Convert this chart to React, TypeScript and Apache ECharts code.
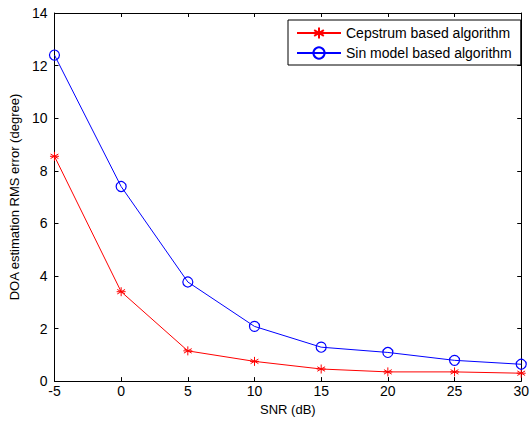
import React, { useEffect, useRef } from "react";
import * as echarts from "echarts";

const snr = [-5, 0, 5, 10, 15, 20, 25, 30];
const cepstrum = [8.55, 3.4, 1.15, 0.75, 0.46, 0.35, 0.35, 0.3];
const sinModel = [12.4, 7.4, 3.77, 2.08, 1.29, 1.09, 0.79, 0.64];
const seriesNames = ["Cepstrum based algorithm", "Sin model based algorithm"];
const xTitle = "SNR (dB)";
const yTitle = "DOA estimation RMS error (degree)";

const FONT = "Liberation Sans, Arial, sans-serif";
const asterisk =
  "path://M0 -5 L0 5 M-4.33 -2.5 L4.33 2.5 M-4.33 2.5 L4.33 -2.5 M-5 0 L5 0";

export default function App() {
  const ref = useRef<HTMLDivElement>(null);
  useEffect(() => {
    const chart = echarts.init(ref.current!, null, { renderer: "svg" });
    const baseX = {
      type: "value" as const,
      min: -5,
      max: 30,
      interval: 5,
      splitLine: { show: false },
      axisLine: { show: true, onZero: false, lineStyle: { color: "#000", width: 1 } },
      axisTick: { show: true, inside: true, length: 4, lineStyle: { color: "#000" } },
    };
    const baseY = {
      type: "value" as const,
      min: 0,
      max: 14,
      interval: 2,
      splitLine: { show: false },
      axisLine: { show: true, onZero: false, lineStyle: { color: "#000", width: 1 } },
      axisTick: { show: true, inside: true, length: 4, lineStyle: { color: "#000" } },
    };
    chart.setOption({
      animation: false,
      backgroundColor: "#fff",
      grid: { left: 52, right: 6, top: 13, bottom: 37, containLabel: false },
      legend: {
        orient: "vertical",
        left: 288,
        top: 20,
        itemWidth: 44,
        itemHeight: 14,
        itemGap: 6,
        padding: [6, 9, 5, 8],
        backgroundColor: "#fff",
        borderColor: "#000",
        borderWidth: 1,
        textStyle: { fontFamily: FONT, fontSize: 14, color: "#000" },
        data: seriesNames,
      },
      xAxis: [
        {
          ...baseX,
          position: "bottom",
          name: xTitle,
          nameLocation: "middle",
          nameGap: 21,
          nameTextStyle: { fontFamily: FONT, fontSize: 13, color: "#000" },
          axisLabel: { fontFamily: FONT, fontSize: 14, lineHeight: 10, color: "#000", margin: 5 },
        },
        { ...baseX, position: "top", axisLabel: { show: false } },
      ],
      yAxis: [
        {
          ...baseY,
          position: "left",
          name: yTitle,
          nameLocation: "middle",
          nameGap: 25,
          nameRotate: 90,
          nameTextStyle: { fontFamily: FONT, fontSize: 13, color: "#000" },
          axisLabel: { fontFamily: FONT, fontSize: 14, lineHeight: 8, color: "#000", margin: 7 },
        },
        { ...baseY, position: "right", axisLabel: { show: false } },
      ],
      series: [
        {
          name: seriesNames[0],
          type: "line",
          data: snr.map((x, i) => [x, cepstrum[i]]),
          symbol: asterisk,
          symbolSize: 9,
          lineStyle: { color: "#ff0000", width: 1 },
          itemStyle: { color: "#ff0000", borderColor: "#ff0000", borderWidth: 1 },
        },
        {
          name: seriesNames[1],
          type: "line",
          data: snr.map((x, i) => [x, sinModel[i]]),
          symbol: "circle",
          symbolSize: 10,
          lineStyle: { color: "#0000ff", width: 1 },
          itemStyle: { color: "rgba(0,0,0,0)", borderColor: "#0000ff", borderWidth: 1.2 },
        },
      ],
    });
    return () => chart.dispose();
  }, []);
  return <div ref={ref} style={{ width: 532, height: 421, position: "absolute", left: 0, top: 0 }} />;
}
